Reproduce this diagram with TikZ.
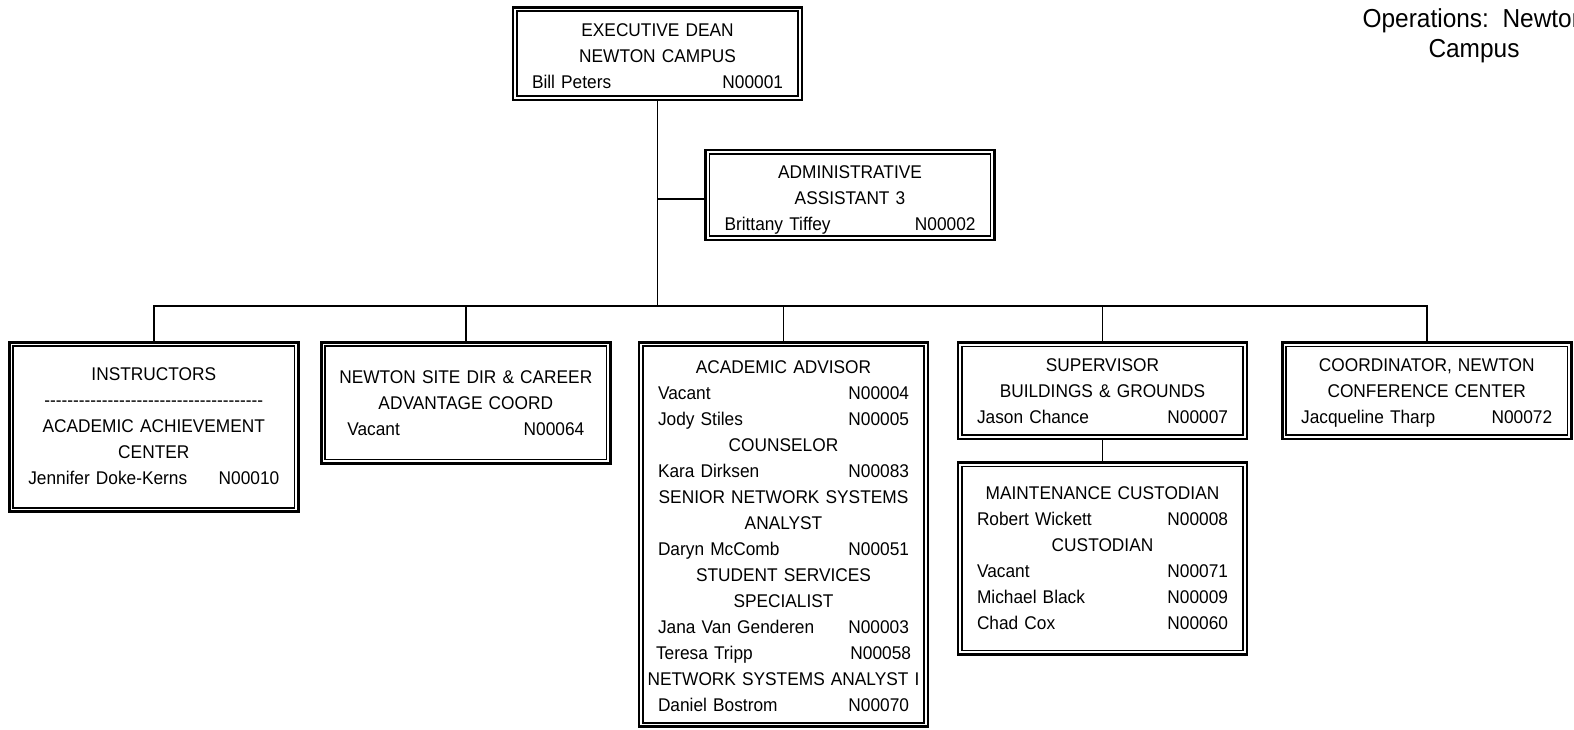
\documentclass[tikz,border=0pt]{standalone}
\usepackage{fontspec}
\setmainfont{Liberation Sans}[FakeStretch=0.94]
\newlength\tw
\setlength\tw{251pt}
\newcommand\T[1]{\makebox[\tw][c]{\strut#1}}
\newcommand\R[2]{\makebox[\tw]{\strut#1\hfill#2}}
\newcommand\hy{-\kern0pt}
\begin{document}
\begin{tikzpicture}[x=1pt,y=-1pt,
  frame/.style={draw, line width=2.6pt, inner sep=0pt, minimum width=289pt, fill=white},
  innerframe/.style={line width=1.5pt},
  link/.style={line width=1.7pt},
  txt/.style={text width=\tw, align=center, inner sep=0pt, font=\fontsize{18.4}{26}\selectfont},
  title/.style={align=center, inner sep=0pt, font=\fontsize{26}{30}\selectfont}]
\useasboundingbox (0,0) rectangle (1574,730);

% frames
\node[frame, minimum height=92.7pt] (dean) at (657.5,53.7) {};
\node[frame, minimum height=90pt] (admin) at (850,195) {};
\node[frame, minimum height=169.4pt] (instr) at (153.8,427) {};
\node[frame, minimum height=121pt] (site) at (465.8,402.8) {};
\node[frame, minimum height=384.4pt] (acad) at (783.5,534.5) {};
\node[frame, minimum height=96.7pt] (sup) at (1102.5,390.7) {};
\node[frame, minimum height=191.6pt] (maint) at (1102.5,558.5) {};
\node[frame, minimum height=96.7pt] (coord) at (1426.7,390.7) {};

\foreach \n in {dean,admin,instr,site,acad,sup,maint,coord}
  \draw[innerframe] ([shift={(5.2,5.2)}]\n.north west) rectangle ([shift={(-5.2,-5.2)}]\n.south east);

% connectors
\coordinate (bus) at (657.5,306);
\coordinate (j) at (657.5,199.3);
\draw[link] (dean.south) -- (bus);
\draw[link] (j) -- (j -| admin.west);
\draw[link] (instr.north) -- (instr.north |- bus) -- (coord.north |- bus) -- (coord.north);
\foreach \n in {site,acad,sup} \draw[link] (\n.north) -- (\n.north |- bus);
\draw[link] (sup.south) -- (maint.north);

% texts
\node[txt] (dean-t) at ([shift={(0,4)}]dean.center)
  {\T{EXECUTIVE DEAN}\\\T{NEWTON CAMPUS}\\\R{Bill Peters}{N00001}};
\node[txt] (admin-t) at ([shift={(0,4.3)}]admin.center)
  {\T{ADMINISTRATIVE}\\\T{ASSISTANT 3}\\\R{Brittany Tiffey}{N00002}};
\node[txt] (instr-t) at ([shift={(0,0.7)}]instr.center)
  {\T{INSTRUCTORS}\\\T{\hy\hy\hy\hy\hy\hy\hy\hy\hy\hy\hy\hy\hy\hy\hy\hy\hy\hy\hy\hy\hy\hy\hy\hy\hy\hy\hy\hy\hy\hy\hy\hy\hy\hy\hy\hy\hy\hy}\\
   \T{ACADEMIC ACHIEVEMENT}\\\T{CENTER}\\\R{Jennifer Doke-Kerns}{N00010}};
\node[txt] (site-t) at ([shift={(0,1)}]site.center)
  {\T{NEWTON SITE DIR \& CAREER}\\\T{ADVANTAGE COORD}\\\R{\hspace*{7pt}Vacant}{N00064\hspace*{7pt}}};
\node[txt] (acad-t) at ([shift={(0,3.2)}]acad.center)
  {\T{ACADEMIC ADVISOR}\\\R{Vacant}{N00004}\\\R{Jody Stiles}{N00005}\\\T{COUNSELOR}\\
   \R{Kara Dirksen}{N00083}\\\T{SENIOR NETWORK SYSTEMS}\\\T{ANALYST}\\\R{Daryn McComb}{N00051}\\
   \T{STUDENT SERVICES}\\\T{SPECIALIST}\\\R{Jana Van Genderen}{N00003}\\
   \R{\hspace*{-2pt}Teresa Tripp}{N00058\hspace*{-2pt}}\\
   \T{NETWORK SYSTEMS ANALYST I}\\\R{Daniel Bostrom}{N00070}};
\node[txt] (sup-t) at ([shift={(0,1.6)}]sup.center)
  {\T{SUPERVISOR}\\\T{BUILDINGS \& GROUNDS}\\\R{Jason Chance}{N00007}};
\node[txt] (maint-t) at ([shift={(0,0.8)}]maint.center)
  {\T{MAINTENANCE CUSTODIAN}\\\R{Robert Wickett}{N00008}\\\T{CUSTODIAN}\\
   \R{Vacant}{N00071}\\\R{Michael Black}{N00009}\\\R{Chad Cox}{N00060}};
\node[txt] (coord-t) at ([shift={(0,1.1)}]coord.center)
  {\T{COORDINATOR, NEWTON}\\\T{CONFERENCE CENTER}\\\R{Jacqueline Tharp}{N00072}};

\node[title] (title) at (1474,36.8) {\strut Operations:\ \ Newton\\\strut Campus};
\end{tikzpicture}
\end{document}
